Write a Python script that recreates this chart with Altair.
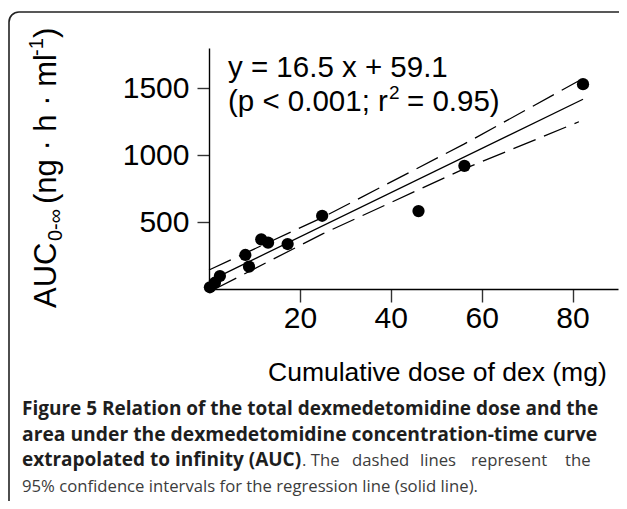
import altair as alt
import pandas as pd

# ---- data ----
dose = [0.2, 1.3, 2.4, 8.0, 8.8, 11.5, 13.0, 17.3, 24.9, 46.1, 56.2, 82.3]
auc = [13, 47, 97, 254, 167, 371, 346, 336, 547, 582, 920, 1530]

fit_x = [0.0, 82.3]
fit_y = [59.1, 1417]

upper_x = [0.0, 25.0, 56.0, 81.4]
upper_y = [142, 535, 1080, 1555]
lower_x = [1.3, 25.0, 56.0, 81.4]
lower_y = [0, 412, 895, 1249]

x_ticks = [20, 40, 60, 80]
y_ticks = [500, 1000, 1500]

# ---- layout (page pixels) ----
OX, OY = 209, 48          # plot origin in page pixels
W, H = 409, 241
FONT = "Liberation Sans"
CAP_FONT = "Open Sans"

pts = pd.DataFrame({"dose": dose, "auc": auc})
fit = pd.DataFrame({"dose": fit_x, "auc": fit_y})
up = pd.DataFrame({"dose": upper_x, "auc": upper_y})
lo = pd.DataFrame({"dose": lower_x, "auc": lower_y})

xs = alt.Scale(domain=[0, 90], nice=False, zero=False)
ys = alt.Scale(domain=[0, 1800], nice=False, zero=False)

xaxis = alt.Axis(values=x_ticks, title=None, grid=False, format="d",
                 tickSize=13, labelPadding=1, labelFontSize=30, labelFont=FONT,
                 labelColor="black", domainColor="black", tickColor="#333",
                 domainWidth=1.4, tickWidth=1.4, labelFlush=False)
yaxis = alt.Axis(values=y_ticks, title=None, grid=False, format="d",
                 tickSize=12, labelPadding=8, labelFontSize=30, labelFont=FONT,
                 labelColor="black", domainColor="black", tickColor="#333",
                 domainWidth=1.4, tickWidth=1.4, labelFlush=False)

X = alt.X("dose:Q", scale=xs, axis=xaxis)
Y = alt.Y("auc:Q", scale=ys, axis=yaxis)

points = alt.Chart(pts).mark_circle(size=150, color="black", opacity=1).encode(x=X, y=Y)

def line_layer(df, dash):
    kw = dict(color="black", strokeWidth=1.3)
    if dash:
        kw["strokeDash"] = [24, 9]
    return alt.Chart(df).mark_line(**kw).encode(x=X, y=Y)

def text_layer(text, px, py, size, weight="normal", angle=0, color="black",
               font=FONT, align="left"):
    kw = dict(align=align, baseline="alphabetic", fontSize=size, fontWeight=weight,
              color=color, font=font)
    if angle:
        kw["angle"] = angle
    return alt.Chart(pd.DataFrame({"t": [text]})).mark_text(**kw).encode(
        x=alt.value(px - OX), y=alt.value(py - OY), text="t:N")

frame = alt.Chart(pd.DataFrame({"a": [0]})).mark_rect(
    cornerRadius=10, stroke="#222", strokeWidth=1.6, fillOpacity=0).encode(
    x=alt.value(9 - OX), x2=alt.value(640 - OX),
    y=alt.value(12 - OY), y2=alt.value(540 - OY))

BOLD = "#1e1e1e"
REG = "#3c3c3c"

def cap_reg(text, px, py, align="left"):
    return text_layer(text, px, py, 16.7, color=REG, font=CAP_FONT, align=align)

texts = [
    # regression equation
    text_layer("y = 16.5 x + 59.1", 228, 77, 29.5),
    text_layer("(p < 0.001; r", 228, 111, 29.5),
    text_layer("2", 389, 99, 19),
    text_layer("= 0.95)", 407, 111, 29.5),
    # x title
    text_layer("Cumulative dose of dex (mg)", 268, 381, 26.5),
    # y title (rotated segments)
    text_layer("AUC", 56, 308, 31, angle=270),
    text_layer("0-∞", 62, 241, 20, angle=270),
    text_layer("(ng · h · ml", 56, 204, 31, angle=270),
    text_layer("-1", 43, 56, 20, angle=270),
    text_layer(")", 56, 38, 31, angle=270),
    # caption (justified lines)
    text_layer("Figure 5 Relation of the total dexmedetomidine dose and the", 22, 415, 19,
               weight="bold", color=BOLD, font=CAP_FONT),
    text_layer("area under the dexmedetomidine concentration-time curve", 22, 441, 19.3,
               weight="bold", color=BOLD, font=CAP_FONT),
    text_layer("extrapolated to infinity (AUC)", 22, 466, 19,
               weight="bold", color=BOLD, font=CAP_FONT),
    cap_reg(". The", 302, 466),
    cap_reg("dashed", 352, 466),
    cap_reg("lines", 420, 466),
    cap_reg("represent", 471, 466),
    cap_reg("the", 565, 466),
    cap_reg("95% confidence intervals for the regression line (solid line).", 22, 492),
]

chart = alt.layer(
    frame,
    line_layer(up, True),
    line_layer(lo, True),
    line_layer(fit, False),
    points,
    *texts,
).properties(
    width=W, height=H,
    padding={"left": OX - 8, "top": OY - 8, "right": 1, "bottom": 212},
    autosize="none",
    background="white",
).configure_view(stroke=None)

chart.save("out.html", embed_options={"renderer": "svg", "actions": False})
